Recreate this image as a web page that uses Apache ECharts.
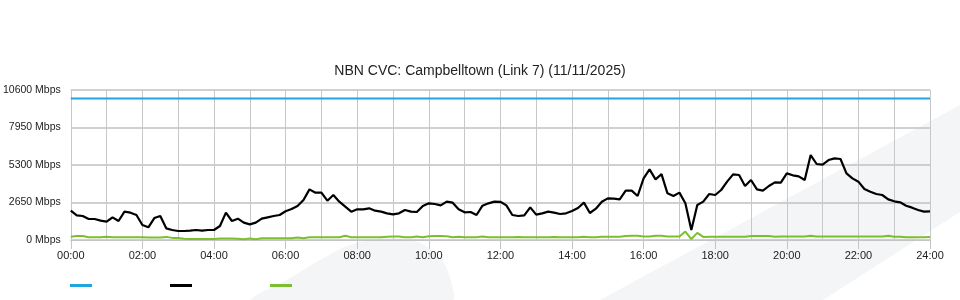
<!DOCTYPE html>
<html>
<head>
<meta charset="utf-8">
<script src="https://cdn.jsdelivr.net/npm/echarts@6/dist/echarts.min.js"></script>
<style>html,body{margin:0;padding:0;background:#fff}#c{width:960px;height:300px}</style>
</head>
<body>
<div id="c"></div>
<script>
// Sample interval: 10 minutes, 00:00 .. 24:00 (145 samples)
const stepHours = 1 / 6;

const download = [
  2073, 1743, 1696, 1484, 1484, 1366, 1295, 1602, 1343, 2002, 1932, 1767, 1060, 895, 1550, 1700, 824, 707, 636, 636, 659, 707, 659, 707, 707, 989, 1932, 1343, 1507, 1225, 1107, 1225, 1507, 1602, 1696, 1767, 2030,
  2191, 2403, 2827, 3580, 3345, 3345, 2779, 3180, 2709, 2356, 2002, 2167, 2167, 2238, 2073, 2002, 1885, 1814, 1885, 2120, 2002, 1979, 2403, 2591, 2544, 2450, 2709, 2638, 2167, 1955, 1979, 1767, 2426, 2591, 2709, 2700,
  2450, 1767, 1696, 1743, 2309, 1790, 1885, 2002, 1932, 1837, 1885, 2049, 2261, 2638, 1908, 2214, 2709, 2944, 2920, 2873, 3486, 3486, 3109, 4357, 4993, 4287, 4650, 3298, 3109, 3345, 2600, 707, 2473, 2709, 3251, 3180,
  3533, 4122, 4640, 4593, 3816, 4240, 3580, 3486, 3816, 4075, 4050, 4711, 4570, 4499, 4240, 6000, 5371, 5324, 5650, 5771, 5724, 4711, 4357, 4122, 3604, 3415, 3251, 3180, 2873, 2733, 2662, 2426, 2285, 2120, 2002, 2025
];

const upload = [
  230, 290, 280, 200, 190, 190, 230, 190, 190, 190, 190, 190, 190, 170, 170, 180, 220, 150, 140, 90, 70, 70, 70, 70, 70, 110, 110, 110, 90, 60, 100, 60, 118, 118, 118, 118, 118,
  118, 180, 130, 190, 190, 190, 190, 190, 190, 300, 190, 190, 190, 190, 190, 190, 230, 250, 240, 190, 200, 250, 190, 270, 280, 280, 260, 190, 230, 190, 190, 190, 250, 190, 190, 190,
  190, 190, 220, 190, 190, 190, 190, 190, 220, 190, 190, 190, 190, 230, 190, 190, 230, 230, 230, 230, 280, 300, 300, 240, 240, 300, 300, 240, 240, 240, 600, 70, 500, 220, 230, 230,
  230, 230, 230, 230, 230, 280, 280, 280, 280, 230, 250, 250, 250, 250, 250, 300, 250, 250, 250, 250, 250, 250, 250, 250, 250, 250, 250, 250, 300, 230, 230, 190, 190, 190, 200, 220
];

const capacityTimes = [0, 24];
const capacity = [10000, 10000];

const yTicks = [0, 2650, 5300, 7950, 10600];
const seriesNames = ['Capacity', 'Download', 'Upload'];
const titleText = 'NBN CVC: Campbelltown (Link 7) (11/11/2025)';

const chart = echarts.init(document.getElementById('c'), null, {renderer: 'canvas'});
const FONT = '"Liberation Sans", Arial, sans-serif';

chart.setOption({
  animation: false,
  backgroundColor: '#fff',
  title: {
    text: titleText, left: 'center', top: 59,
    textStyle: {fontFamily: FONT, fontSize: 14, fontWeight: 'normal', color: '#222'}
  },
  legend: {
    left: 65, top: 279, icon: 'rect', itemWidth: 22, itemHeight: 3, itemGap: 78,
    formatter: () => '', data: seriesNames, selectedMode: false
  },
  graphic: [
    {type: 'polygon', z: -10, silent: true,
     shape: {points: [[600, 300], [960, 105], [960, 212], [823, 300]]},
     style: {fill: '#f4f5f7'}},
    {type: 'polygon', z: -10, silent: true,
     shape: {smooth: 0.3, points: [[253, 300], [290, 278], [320, 260], [350, 245], [387, 238], [420, 243], [443, 262], [452, 285], [452, 300]]},
     style: {fill: '#f4f5f7'}}
  ],
  grid: {left: 70, right: 30, top: 90, bottom: 60, containLabel: false},
  xAxis: {
    type: 'value', min: 0, max: 24, interval: 2,
    axisLine: {show: true, lineStyle: {color: '#c4c4c4', width: 1}},
    axisTick: {show: true, length: 9, lineStyle: {color: '#c4c4c4'}},
    axisLabel: {
      fontFamily: FONT, fontSize: 11, color: '#222', margin: 10,
      formatter: v => (v < 10 ? '0' : '') + v + ':00'
    },
    splitLine: {show: true, lineStyle: {color: '#c8c8c8', width: 1}},
    minorTick: {show: false, splitNumber: 2},
    minorSplitLine: {show: true, lineStyle: {color: '#c8c8c8', width: 1}}
  },
  yAxis: {
    type: 'value', min: yTicks[0], max: yTicks[yTicks.length - 1], interval: yTicks[1] - yTicks[0],
    axisLine: {show: false}, axisTick: {show: false},
    axisLabel: {fontFamily: FONT, fontSize: 10.5, color: '#222', margin: 10, formatter: v => v + ' Mbps'},
    splitLine: {show: true, lineStyle: {color: '#c0c0c0', width: 1.5}}
  },
  series: [
    {name: seriesNames[0], type: 'line', showSymbol: false, z: 3,
     data: capacityTimes.map((t, i) => [t, capacity[i]]),
     lineStyle: {color: '#1fa6e0', width: 2}, itemStyle: {color: '#1fa6e0'}},
    {name: seriesNames[1], type: 'line', showSymbol: false, z: 4,
     data: download.map((v, i) => [i * stepHours, v]),
     lineStyle: {color: '#000', width: 2.2}, itemStyle: {color: '#000'}},
    {name: seriesNames[2], type: 'line', showSymbol: false, z: 5,
     data: upload.map((v, i) => [i * stepHours, v]),
     lineStyle: {color: '#7cbf2e', width: 2}, itemStyle: {color: '#7cbf2e'}}
  ]
});
</script>
</body>
</html>
